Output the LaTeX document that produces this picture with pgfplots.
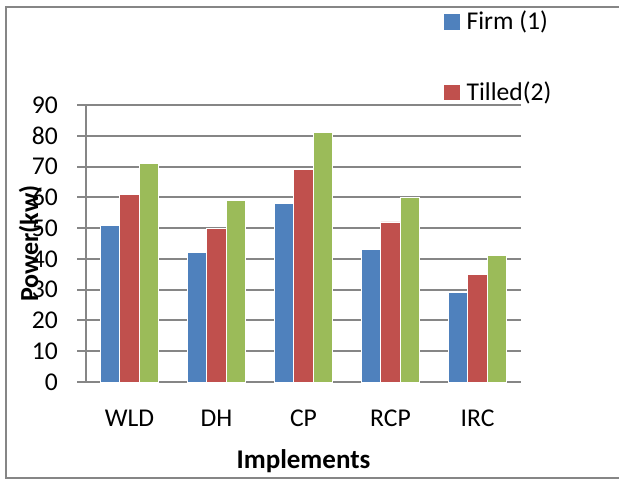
\documentclass[border=0pt]{standalone}
\usepackage{fontspec}
\setmainfont{Carlito}
\usepackage{pgfplots}
\pgfplotsset{compat=1.18}
\definecolor{cblue}{RGB}{79,129,189}
\definecolor{cred}{RGB}{192,80,77}
\definecolor{cgreen}{RGB}{155,187,89}
\definecolor{cgrid}{RGB}{134,134,134}
\begin{document}
\begin{tikzpicture}
\useasboundingbox (-43pt,-48.5pt) rectangle (266.5pt,191pt);
\draw[cgrid, line width=1pt] (266.5pt,187.5pt) -- (-40pt,187.5pt) -- (-40pt,-48pt) -- (266.5pt,-48pt);
\begin{axis}[
  scale only axis,
  width=217.5pt, height=138.5pt,
  ybar=0pt, bar width=0.222,
  xmin=-0.5, xmax=4.5,
  ymin=0, ymax=90,
  ytick={0,10,...,90},
  xtick={0,1,2,3,4},
  xticklabels={WLD,DH,CP,RCP,IRC},
  axis lines=left,
  axis line style={-, cgrid, line width=1pt},
  ymajorgrids,
  grid style={cgrid, line width=1pt},
  y tick style={cgrid, line width=1pt},
  x tick style={draw=none},
  tick align=outside,
  major tick length=4.5pt,
  /pgf/number format/assume math mode=true,
  tick label style={font=\fontsize{12.8}{14}\selectfont},
  yticklabel style={xshift=-6pt},
  xticklabel style={yshift=-6pt},
  xlabel={\textbf{Implements}},
  xlabel style={font=\fontsize{13.5}{15}\selectfont, yshift=-4.5pt},
  ylabel={\textbf{Power(kw)}},
  ylabel style={font=\fontsize{13}{15}\selectfont, at={(axis description cs:-0.11,0.5)}, anchor=base},
  legend entries={Firm (1),Tilled(2)},
  legend style={draw=none, fill=none, at={(axis description cs:0.822,1.355)}, anchor=north west,
    font=\fontsize{12.8}{14}\selectfont, row sep=20.5pt, inner sep=0pt, nodes={inner xsep=3.5pt}},
  legend cell align=left,
  legend image code/.code={\fill[#1,draw=none] (0pt,-3.9pt) rectangle (7.8pt,3.9pt);},
  clip=false,
]
\addplot[fill=cblue, draw=white, line width=0.4pt] coordinates {(0,51) (1,42) (2,58) (3,43) (4,29)};
\addplot[fill=cred, draw=white, line width=0.4pt] coordinates {(0,61) (1,50) (2,69) (3,52) (4,35)};
\addplot[fill=cgreen, draw=white, line width=0.4pt] coordinates {(0,71) (1,59) (2,81) (3,60) (4,41)};
\end{axis}
\end{tikzpicture}
\end{document}
